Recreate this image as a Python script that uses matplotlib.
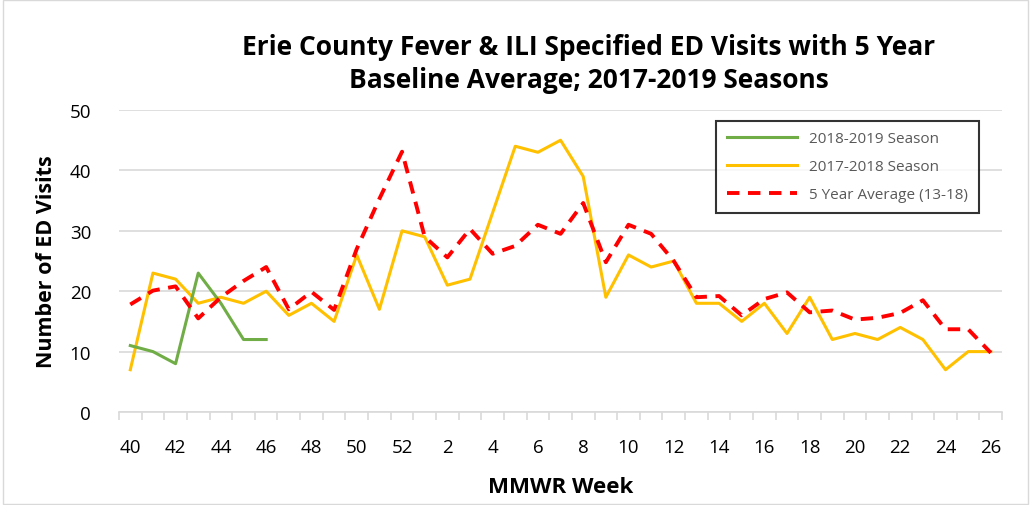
import matplotlib.pyplot as plt
from matplotlib.patches import Rectangle

weeks = [40, 41, 42, 43, 44, 45, 46, 47, 48, 49, 50, 51, 52,
         1, 2, 3, 4, 5, 6, 7, 8, 9, 10, 11, 12, 13,
         14, 15, 16, 17, 18, 19, 20, 21, 22, 23, 24, 25, 26]

season_1819 = [11, 10, 8, 23, 18, 12, 12]

season_1718 = [7, 23, 22, 18, 19, 18, 20, 16, 18, 15, 26, 17, 30,
               29, 21, 22, 33, 44, 43, 45, 39, 19, 26, 24, 25, 18,
               18, 15, 18, 13, 19, 12, 13, 12, 14, 12, 7, 10, 10]

avg_5yr = [17.8, 20.1, 20.8, 15.5, 19.0, 21.7, 24.0, 17.0, 19.9, 16.9, 27.0, 35.3, 43.1,
           29.0, 25.6, 30.3, 26.2, 27.5, 31.0, 29.5, 34.6, 24.8, 31.0, 29.5, 25.0, 19.0,
           19.2, 16.0, 18.7, 19.8, 16.5, 16.8, 15.3, 15.6, 16.4, 18.5, 13.7, 13.7, 9.8]

plt.rcParams['font.family'] = ['Open Sans', 'DejaVu Sans']

fig = plt.figure(figsize=(10.31, 5.06), dpi=100)
fig.patches.append(Rectangle((0.003, 0.002), 0.994, 0.996, transform=fig.transFigure,
                             fill=False, edgecolor='#d9d9d9', linewidth=1))
ax = fig.add_axes([0.1154, 0.1838, 0.8566, 0.5968])

x = list(range(len(weeks)))
ax.plot(x[:len(season_1819)], season_1819, color='#70ad47', linewidth=2.2,
        label='2018-2019 Season', zorder=3)
ax.plot(x, season_1718, color='#ffc000', linewidth=2.2,
        label='2017-2018 Season', zorder=2)
ax.plot(x, avg_5yr, color='#ff0000', linewidth=2.8, dashes=(3.2, 2.2),
        label='5 Year Average (13-18)', zorder=4)

ax.set_xlim(-0.5, len(weeks) - 0.5)
ax.set_ylim(0, 50)
ax.set_yticks(range(0, 51, 10))
ax.yaxis.grid(True, color='#d9d9d9', linewidth=1.2)
ax.set_axisbelow(True)

# category ticks sit between points, labels every second week
ax.set_xticks([i - 0.5 for i in range(len(weeks) + 1)], minor=False)
ax.set_xticklabels([])
ax.set_xticks(x[::2], minor=True)
ax.set_xticklabels([str(w) for w in weeks[::2]], minor=True)
ax.tick_params(axis='x', which='major', length=6, color='#d9d9d9', width=1.2)
ax.tick_params(axis='x', which='minor', length=0, pad=19, labelsize=13.5)
ax.tick_params(axis='y', length=0, pad=20, labelsize=13.5)

for side in ['top', 'right', 'left']:
    ax.spines[side].set_visible(False)
ax.spines['bottom'].set_color('#d9d9d9')
ax.spines['bottom'].set_linewidth(1.2)

ax.set_xlabel('MMWR Week', fontsize=16, fontweight='bold', labelpad=14)
ax.set_ylabel('Number of ED Visits', fontsize=15.5, fontweight='bold', labelpad=9)

fig.text(0.571, 0.874, 'Erie County Fever & ILI Specified ED Visits with 5 Year\n'
         'Baseline Average; 2017-2019 Seasons', ha='center', va='center',
         fontsize=19, fontweight='bold', linespacing=1.3)

leg = ax.legend(loc='upper right', bbox_to_anchor=(0.982, 0.99), fontsize=11,
                frameon=True, fancybox=False, edgecolor='black', labelcolor='#595959',
                handlelength=4.6, borderpad=0.7, labelspacing=0.85)
leg.get_frame().set_linewidth(1.5)

fig.savefig('out.png', dpi=100)
